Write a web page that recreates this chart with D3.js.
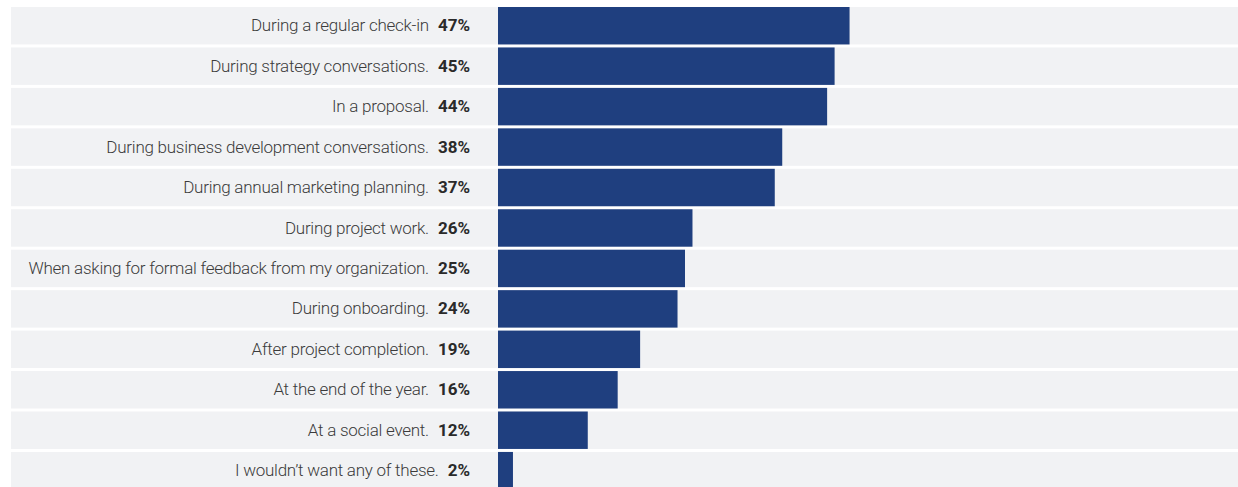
<!DOCTYPE html>
<html>
<head>
<meta charset="utf-8">
<script src="https://cdn.jsdelivr.net/npm/d3@7"></script>
<style>
  html, body { margin: 0; padding: 0; background: #ffffff; }
  svg { display: block; }
  .label { font-family: Roboto, "Open Sans", sans-serif; font-weight: 300; font-size: 17px; letter-spacing: -0.25px; fill: #3b3b3b; }
  .pct { font-weight: 700; fill: #2a2a2a; letter-spacing: 0; }
</style>
</head>
<body>
<svg id="chart" width="1238" height="487"></svg>
<script>
// Moments when respondents would welcome the conversation (share of respondents, %)
const categories = [
  "During a regular check-in",
  "During strategy conversations.",
  "In a proposal.",
  "During business development conversations.",
  "During annual marketing planning.",
  "During project work.",
  "When asking for formal feedback from my organization.",
  "During onboarding.",
  "After project completion.",
  "At the end of the year.",
  "At a social event.",
  "I wouldn\u2019t want any of these."
];
const values = [47, 45, 44, 38, 37, 26, 25, 24, 19, 16, 12, 2];
const valueLabels = values.map(v => v + "%");

const width = 1238, height = 487;
const svg = d3.select("#chart");

const step = 40.45, gap = 3;
const y = d3.scaleBand()
  .domain(categories)
  .range([7, 7 + step * categories.length - gap])
  .paddingInner(gap / step)
  .paddingOuter(0);

const x = d3.scaleLinear().domain([0, 100]).range([498, 1246]);

const rows = svg.selectAll("g.row")
  .data(categories)
  .join("g")
  .attr("class", "row");

// light background band across each row
rows.append("rect")
  .attr("x", 11)
  .attr("y", d => y(d))
  .attr("width", width - 11)
  .attr("height", y.bandwidth())
  .attr("fill", "#f1f2f4");

// value bars
rows.append("rect")
  .attr("x", x(0))
  .attr("y", d => y(d))
  .attr("width", (d, i) => x(values[i]) - x(0))
  .attr("height", y.bandwidth())
  .attr("fill", "#1f3f7f");

// category label followed by the bold percentage
const txt = rows.append("text")
  .attr("class", "label")
  .attr("x", 470)
  .attr("y", d => y(d) + y.bandwidth() / 2)
  .attr("dy", "0.33em")
  .attr("text-anchor", "end");

txt.append("tspan").text(d => d);
txt.append("tspan")
  .attr("class", "pct")
  .attr("dx", 9)
  .text((d, i) => valueLabels[i]);
</script>
</body>
</html>
